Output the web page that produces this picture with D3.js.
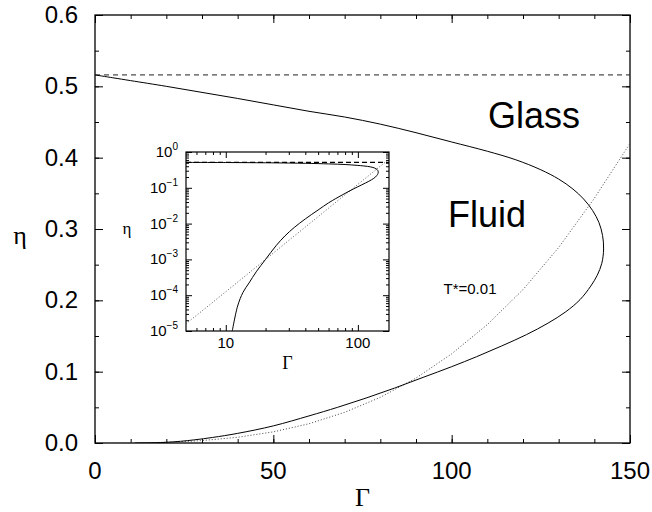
<!DOCTYPE html>
<html>
<head>
<meta charset="utf-8">
<script src="https://cdn.jsdelivr.net/npm/d3@7"></script>
<style>
  body { margin: 0; background: #fff; }
  svg { display: block; }
  text { font-family: "Liberation Sans", Arial, sans-serif; fill: #000; }
  .serif { font-family: "Liberation Serif", "Times New Roman", serif; }
  .domain { display: none; }
</style>
</head>
<body>
<svg id="chart" width="652" height="512"></svg>
<script>
// --- data ---
const glassEta = 0.516;   // dashed line (glass transition limit)

// solid curve, followed along the line: upper branch, nose, lower branch
const solidGamma = [0, 5, 10, 20, 30, 40, 50, 60, 70, 80, 90, 100, 110, 118, 125, 130, 134, 137, 139.5, 141.3, 142.3, 142.6, 142.1, 140.8, 139, 136, 132, 127, 121, 114, 107, 100, 92, 84, 76, 68, 60, 50, 40, 33, 28, 24, 20, 17, 15, 13.5, 12.3, 11.2];
const solidEta = [0.516, 0.512, 0.508, 0.500, 0.4915, 0.483, 0.474, 0.465, 0.457, 0.447, 0.435, 0.422, 0.409, 0.397, 0.383, 0.370, 0.356, 0.342, 0.326, 0.309, 0.291, 0.272, 0.252, 0.235, 0.220, 0.201, 0.184, 0.168, 0.152, 0.136, 0.121, 0.107, 0.092, 0.077, 0.063, 0.050, 0.038, 0.024, 0.0135, 0.0078, 0.0045, 0.0024, 0.0010, 0.00045, 0.00022, 0.00012, 0.00005, 0.00001];

// dotted curve
const dottedGamma = [5, 7, 10, 15, 20, 25, 30, 40, 50, 60, 70, 80, 90, 100, 110, 120, 130, 140, 150, 160, 172];
const dottedEta = [0.000016, 0.000043, 0.000125, 0.00042, 0.0010, 0.00195, 0.0034, 0.0080, 0.0156, 0.027, 0.043, 0.064, 0.091, 0.125, 0.166, 0.215, 0.274, 0.343, 0.42, 0.51, 0.64];

const mainXTicks = [0, 50, 100, 150];
const mainYTicks = [0, 0.1, 0.2, 0.3, 0.4, 0.5, 0.6];
const insetXTicks = [10, 100];
const insetYExponents = [0, -1, -2, -3, -4, -5];

const regionLabels = ["Glass", "Fluid"];
const tempLabel = "T*=0.01";

// --- layout ---
const svg = d3.select("#chart");
const main = { left: 95, right: 630, top: 15, bottom: 443 };
const inset = { left: 186, right: 389, top: 152, bottom: 331 };

const x = d3.scaleLinear().domain([0, 150]).range([main.left, main.right]);
const y = d3.scaleLinear().domain([0, 0.6]).range([main.bottom, main.top]);

const xi = d3.scaleLog().domain([5, 172]).range([inset.left, inset.right]);
const yi = d3.scaleLog().domain([1e-5, 1]).range([inset.bottom, inset.top]);

const solid = solidGamma.map((g, i) => [g, solidEta[i]]);
const dotted = dottedGamma.map((g, i) => [g, dottedEta[i]]);

svg.append("defs").append("clipPath").attr("id", "clipMain")
  .append("rect").attr("x", main.left).attr("y", main.top)
  .attr("width", main.right - main.left).attr("height", main.bottom - main.top);
svg.select("defs").append("clipPath").attr("id", "clipInset")
  .append("rect").attr("x", inset.left).attr("y", inset.top)
  .attr("width", inset.right - inset.left).attr("height", inset.bottom - inset.top);

// ticks pointing inwards on all four sides
function ticks(axisFn, scale, values, size, tx, ty, w) {
  svg.append("g")
    .attr("transform", `translate(${tx},${ty})`)
    .call(axisFn(scale).tickValues(values).tickSize(size).tickFormat(""))
    .call(g => g.selectAll("line").attr("stroke", "#000").attr("stroke-width", w));
}

// --- main plot ---
const mainMinorX = d3.range(0, 151, 10);
const mainMinorY = d3.range(0, 0.61, 0.05);
ticks(d3.axisBottom, x, mainMinorX, -4, 0, main.bottom, 1);
ticks(d3.axisTop, x, mainMinorX, -4, 0, main.top, 1);
ticks(d3.axisBottom, x, mainXTicks, -8, 0, main.bottom, 1);
ticks(d3.axisTop, x, mainXTicks, -8, 0, main.top, 1);
ticks(d3.axisLeft, y, mainMinorY, -4, main.left, 0, 1);
ticks(d3.axisRight, y, mainMinorY, -4, main.right, 0, 1);
ticks(d3.axisLeft, y, mainYTicks, -8, main.left, 0, 1);
ticks(d3.axisRight, y, mainYTicks, -8, main.right, 0, 1);

svg.append("rect")
  .attr("x", main.left).attr("y", main.top)
  .attr("width", main.right - main.left).attr("height", main.bottom - main.top)
  .attr("fill", "none").attr("stroke", "#000").attr("stroke-width", 1.3);

svg.append("g").selectAll("text").data(mainXTicks).join("text")
  .attr("x", d => x(d)).attr("y", main.bottom + 36)
  .attr("text-anchor", "middle").attr("font-size", 24)
  .text(d => d);
svg.append("g").selectAll("text").data(mainYTicks).join("text")
  .attr("x", main.left - 17).attr("y", d => y(d) + 8)
  .attr("text-anchor", "end").attr("font-size", 24)
  .text(d => d.toFixed(1));

svg.append("text").attr("class", "serif")
  .attr("x", (main.left + main.right) / 2).attr("y", 506)
  .attr("text-anchor", "middle").attr("font-size", 26)
  .text("Γ");
svg.append("text").attr("class", "serif")
  .attr("x", 20).attr("y", 244)
  .attr("text-anchor", "middle").attr("font-size", 26)
  .text("η");

const lineMain = d3.line().x(d => x(d[0])).y(d => y(d[1]));
const gMain = svg.append("g").attr("clip-path", "url(#clipMain)");
gMain.append("path").attr("d", lineMain([[0, glassEta], [150, glassEta]]))
  .attr("fill", "none").attr("stroke", "#222").attr("stroke-width", 1).attr("stroke-dasharray", "5,4");
gMain.append("path").attr("d", lineMain(dotted))
  .attr("fill", "none").attr("stroke", "#444").attr("stroke-width", 1).attr("stroke-dasharray", "1,2");
gMain.append("path").attr("d", d3.line().curve(d3.curveCatmullRom).x(d => x(d[0])).y(d => y(d[1]))(solid))
  .attr("fill", "none").attr("stroke", "#000").attr("stroke-width", 1);

svg.append("text").attr("x", 534).attr("y", 128).attr("text-anchor", "middle")
  .attr("font-size", 36).text(regionLabels[0]);
svg.append("text").attr("x", 487).attr("y", 227).attr("text-anchor", "middle")
  .attr("font-size", 36).text(regionLabels[1]);
svg.append("text").attr("x", 470).attr("y", 294).attr("text-anchor", "middle")
  .attr("font-size", 15).text(tempLabel);

// --- inset ---
svg.append("rect")
  .attr("x", inset.left).attr("y", inset.top)
  .attr("width", inset.right - inset.left).attr("height", inset.bottom - inset.top)
  .attr("fill", "#fff");

const insetMinorX = [6, 7, 8, 9, 20, 30, 40, 50, 60, 70, 80, 90];
const insetMinorY = [];
insetYExponents.slice(1).forEach(e => {
  for (let m = 2; m <= 9; m++) insetMinorY.push(m * Math.pow(10, e));
});
const insetMajorY = insetYExponents.map(e => Math.pow(10, e));

ticks(d3.axisBottom, xi, insetMinorX, -3, 0, inset.bottom, 1);
ticks(d3.axisTop, xi, insetMinorX, -3, 0, inset.top, 1);
ticks(d3.axisBottom, xi, insetXTicks, -6, 0, inset.bottom, 1);
ticks(d3.axisTop, xi, insetXTicks, -6, 0, inset.top, 1);
ticks(d3.axisLeft, yi, insetMinorY, -3, inset.left, 0, 1);
ticks(d3.axisRight, yi, insetMinorY, -3, inset.right, 0, 1);
ticks(d3.axisLeft, yi, insetMajorY, -6, inset.left, 0, 1);
ticks(d3.axisRight, yi, insetMajorY, -6, inset.right, 0, 1);

svg.append("rect")
  .attr("x", inset.left).attr("y", inset.top)
  .attr("width", inset.right - inset.left).attr("height", inset.bottom - inset.top)
  .attr("fill", "none").attr("stroke", "#000").attr("stroke-width", 1.2);

svg.append("g").selectAll("text").data(insetXTicks).join("text")
  .attr("x", d => xi(d)).attr("y", inset.bottom + 17)
  .attr("text-anchor", "middle").attr("font-size", 15)
  .text(d => d);

const yLab = svg.append("g").selectAll("text").data(insetYExponents).join("text")
  .attr("x", inset.left - 8).attr("y", d => yi(Math.pow(10, d)) + 5)
  .attr("text-anchor", "end").attr("font-size", 15);
yLab.append("tspan").text("10");
yLab.append("tspan").attr("dy", -7).attr("font-size", 10).text(d => d === 0 ? "0" : "−" + (-d));

svg.append("text").attr("class", "serif")
  .attr("x", (inset.left + inset.right) / 2).attr("y", inset.bottom + 38)
  .attr("text-anchor", "middle").attr("font-size", 18)
  .text("Γ");
svg.append("text").attr("class", "serif")
  .attr("x", 127).attr("y", 234)
  .attr("text-anchor", "middle").attr("font-size", 17)
  .text("η");

const lineInset = d3.line().x(d => xi(d[0])).y(d => yi(d[1]));
const gInset = svg.append("g").attr("clip-path", "url(#clipInset)");
gInset.append("path").attr("d", lineInset([[5, glassEta], [172, glassEta]]))
  .attr("fill", "none").attr("stroke", "#000").attr("stroke-width", 1.2).attr("stroke-dasharray", "5,3");
gInset.append("path").attr("d", lineInset(dotted))
  .attr("fill", "none").attr("stroke", "#444").attr("stroke-width", 0.9).attr("stroke-dasharray", "1,2");
gInset.append("path")
  .attr("d", d3.line().curve(d3.curveCatmullRom).x(d => xi(d[0])).y(d => yi(d[1]))(solid.filter(d => d[0] >= 5)))
  .attr("fill", "none").attr("stroke", "#000").attr("stroke-width", 1);
</script>
</body>
</html>
